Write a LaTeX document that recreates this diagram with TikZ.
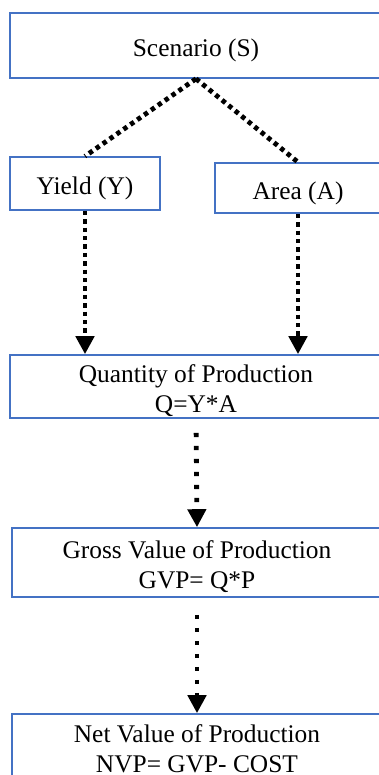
\documentclass[tikz,border=0pt]{standalone}
\usepackage{fontspec}
\setmainfont{Liberation Serif}
\usetikzlibrary{arrows.meta}
\definecolor{boxblue}{RGB}{68,114,196}
\newcommand{\boxtext}[1]{\raisebox{-2.5pt}[\height][\depth]{\begin{tabular}{@{}c@{}}#1\end{tabular}}}
\tikzset{
  box/.style={draw=boxblue, line width=0.8pt, rectangle,
    inner sep=0pt, font=\fontsize{12.7}{15}\selectfont},
  dotline/.style={line width=2.4pt, dash pattern=on 2.2pt off 2pt},
  dotarrow/.style={dotline, -{Triangle[width=9pt,length=9pt]}}
}
\begin{document}
\begin{tikzpicture}[x=0.5pt,y=-0.5pt]
    \useasboundingbox (0,0) rectangle (379,775);
    \clip (0,0) rectangle (379,775);

    % Boxes
    \node[box, minimum width=186pt, minimum height=32.5pt] (scen) at (196,45.5) {\boxtext{Scenario (S)}};
    \node[box, minimum width=75pt, minimum height=26.5pt] (yield) at (85,183.5) {\boxtext{Yield (Y)}};
    \node[box, minimum width=83pt, minimum height=25pt] (area) at (298,188) {\boxtext{Area (A)}};
    \node[box, minimum width=186pt, minimum height=31.5pt] (qty) at (196,386.5) {\boxtext{Quantity of Production\\Q=Y*A}};
    \node[box, minimum width=185pt, minimum height=34.5pt] (gvp) at (197,562.5) {\boxtext{Gross Value of Production\\GVP= Q*P}};
    \node[box, minimum width=185pt, minimum height=35pt] (nvp) at (197,749) {\raisebox{-1pt}[\height][\depth]{\begin{tabular}{@{}c@{}}Net Value of Production\\NVP= GVP- COST\end{tabular}}};

    % Scenario splits
    \draw[dotline] (scen.south) -- (yield.north);
    \draw[dotline] (scen.south) -- (area.north);

    % Downward flow
    \draw[dotarrow] (yield.south) -- (yield.south |- qty.north);
    \draw[dotarrow] (area.south) -- (area.south |- qty.north);
    \draw[dotarrow, dash pattern=on 2.2pt off 4.3pt, shorten <=7pt] (qty.south) -- (gvp.north);
    \draw[dotarrow, dash pattern=on 2.2pt off 4.3pt, shorten <=8.5pt] (gvp.south) -- (nvp.north);
\end{tikzpicture}
\end{document}
